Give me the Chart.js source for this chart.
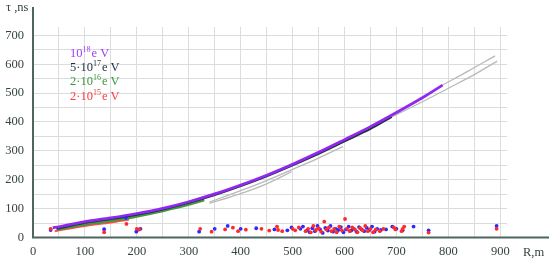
<!DOCTYPE html>
<html>
<head>
<meta charset="utf-8">
<script src="https://cdn.jsdelivr.net/npm/chart.js@4"></script>
<style>
  body { margin: 0; background: #fff; }
  canvas { display: block; }
</style>
</head>
<body>
<canvas id="tauChart" width="550" height="261" style="width:550px;height:261px"></canvas>
<script>
// curves: R (m) vs tau (ns)
const purpleR = [38, 50, 100, 150, 200, 250, 300, 350, 400, 450, 500, 550, 600, 650, 700, 750, 789];
const purpleT = [34, 37, 55, 68, 83, 101, 124, 151, 182, 216, 254, 295, 339, 384, 433, 484, 528];
const blackR = [45, 100, 150, 200, 250, 300, 350, 400, 450, 500, 550, 600, 650, 691];
const blackT = [30, 51, 64, 79, 97, 120, 147, 178, 212, 250, 290, 333, 376, 418];
const greenR = [46, 100, 150, 200, 250, 300, 330];
const greenT = [28, 45, 58, 73, 92, 114, 130];
const redR = [42, 100, 150, 185];
const redT = [22, 40, 52, 62];

// gray fitted lines
const grayAR = [340, 400, 450, 498];
const grayAT = [118, 152, 186, 228];
const grayBR = [340, 400, 450, 500, 550, 597];
const grayBT = [123, 162, 197, 236, 275, 315];
const grayCR = [691, 750, 800, 850, 894];
const grayCT = [418, 470, 517, 564, 611];
const grayDR = [789, 840, 890];
const grayDT = [528, 578, 629];

// measured points near the bottom
const redPts = [
  [34,30],[137,18],[180,47],[200,30],[205,28],[322,30],[344,20],[370,28],[385,34],[395,22],
  [410,27],[440,30],[455,24],[470,38],[472,26],[480,22],[500,30],[505,25],[512,35],[525,22],
  [530,30],[535,18],[540,40],[545,26],[550,32],[555,20],[561,55],[565,28],[570,35],[575,22],
  [580,30],[585,18],[590,38],[595,25],[601,64],[605,30],[610,22],[615,35],[620,28],[625,18],
  [630,32],[635,25],[640,40],[645,22],[650,30],[655,18],[660,27],[668,22],[675,30],[695,35],
  [698,28],[710,22],[712,30],[715,38],[762,17],[893,30]
];
const bluePts = [
  [34,26],[137,29],[179,68],[199,20],[202,27],[207,30],[320,20],[350,30],[375,40],[400,30],
  [430,32],[465,28],[490,25],[498,35],[515,30],[520,38],[528,25],[533,18],[538,32],[543,22],
  [548,40],[553,28],[558,16],[563,33],[568,24],[573,40],[578,20],[583,30],[588,26],[593,36],
  [598,18],[603,28],[608,38],[613,24],[618,30],[623,20],[628,36],[633,28],[638,22],[643,33],
  [648,26],[653,38],[658,20],[663,30],[670,26],[680,28],[692,38],[700,30],[712,25],[733,38],
  [762,25],[893,40]
];

const legendItems = [
  { pre: '10', exp: '18', color: '#a23cf5' },
  { pre: '5\u00b710', exp: '17', color: '#1f2f3f' },
  { pre: '2\u00b710', exp: '16', color: '#3c9a3c' },
  { pre: '2\u00b710', exp: '15', color: '#ff3b3b' }
];

const serif = '"Liberation Serif", "DejaVu Serif", serif';
const axisColor = '#4f6660';
const textColor = '#33433f';

function pts(xs, ys) {
  return xs.map((x, i) => ({ x: x, y: ys[i] }));
}

function curve(xs, ys, color, width, order) {
  return {
    data: pts(xs, ys),
    showLine: true,
    borderColor: color,
    borderWidth: width,
    pointRadius: 0,
    cubicInterpolationMode: 'monotone',
    order: order
  };
}

function dots(list, color) {
  return {
    data: list.map(p => ({ x: p[0], y: p[1] })),
    showLine: false,
    backgroundColor: color,
    borderWidth: 0,
    pointRadius: 1.9,
    order: 0
  };
}

const extras = {
  id: 'extras',
  afterDraw(chart) {
    const ctx = chart.ctx;
    const a = chart.chartArea;
    ctx.save();
    // axis lines reach past the plot area
    ctx.strokeStyle = axisColor;
    ctx.lineWidth = 2;
    ctx.beginPath();
    ctx.moveTo(a.left, 7);
    ctx.lineTo(a.left, a.bottom);
    ctx.lineTo(549, a.bottom);
    ctx.stroke();

    ctx.fillStyle = textColor;
    ctx.font = '12.5px ' + serif;
    ctx.textBaseline = 'alphabetic';
    ctx.textAlign = 'left';
    ctx.fillText('\u03c4 ,ns', 6, 11);
    ctx.fillText('R,m', 523, 256);

    // legend text
    let y = 57;
    legendItems.forEach(it => {
      ctx.fillStyle = it.color;
      ctx.font = '12.5px ' + serif;
      let x = 70;
      ctx.fillText(it.pre, x, y);
      x += ctx.measureText(it.pre).width;
      ctx.font = '8px ' + serif;
      ctx.fillText(it.exp, x, y - 5);
      x += ctx.measureText(it.exp).width + 1;
      ctx.font = '12.5px ' + serif;
      ctx.fillText('e V', x, y);
      y += 14.2;
    });
    ctx.restore();
  }
};

new Chart(document.getElementById('tauChart'), {
  type: 'scatter',
  data: {
    datasets: [
      curve(grayAR, grayAT, '#b9b9b9', 1.3, 9),
      curve(grayBR, grayBT, '#b9b9b9', 1.3, 9),
      curve(grayCR, grayCT, '#b9b9b9', 1.3, 9),
      curve(grayDR, grayDT, '#b9b9b9', 1.3, 9),
      curve(redR, redT, '#ff4a4a', 2, 5),
      curve(greenR, greenT, '#3c9a3c', 2.5, 4),
      curve(blackR, blackT, '#1f2f3f', 2, 3),
      curve(purpleR, purpleT, '#9128f0', 2.7, 2),
      dots(redPts, '#ff2a2a'),
      dots(bluePts, '#2a2aff')
    ]
  },
  options: {
    responsive: false,
    devicePixelRatio: 1,
    animation: false,
    layout: { padding: { left: 0, top: 27, right: 43, bottom: 0 } },
    plugins: { legend: { display: false }, tooltip: { enabled: false } },
    scales: {
      x: {
        type: 'linear',
        min: 0,
        max: 913,
        afterFit: s => { s.height = 23.5; },
        border: { display: false },
        grid: { color: '#d9dddd', lineWidth: 1, drawTicks: false },
        ticks: {
          stepSize: 50,
          includeBounds: false,
          autoSkip: false,
          maxRotation: 0,
          padding: 7,
          color: textColor,
          font: { family: serif, size: 12.5 },
          callback: v => (v % 100 === 0 ? v : '')
        }
      },
      y: {
        type: 'linear',
        min: 0,
        max: 729,
        afterFit: s => { s.width = 33; },
        border: { display: false },
        grid: { color: '#d9dddd', lineWidth: 1, drawTicks: false },
        ticks: {
          stepSize: 50,
          includeBounds: false,
          autoSkip: false,
          padding: 9,
          color: textColor,
          font: { family: serif, size: 12.5 },
          callback: v => (v % 100 === 0 ? v : '')
        }
      }
    }
  },
  plugins: [extras]
});
</script>
</body>
</html>
